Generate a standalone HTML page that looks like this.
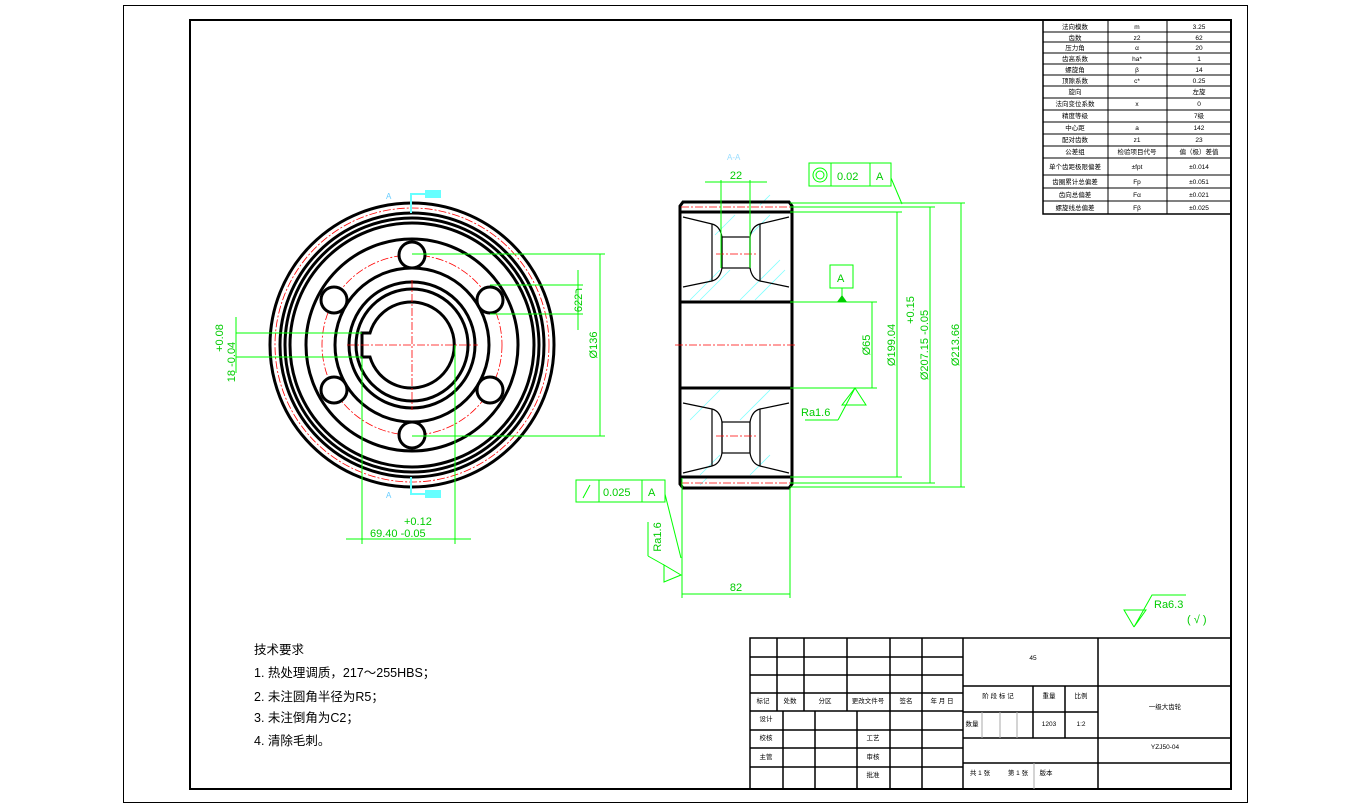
<!DOCTYPE html>
<html><head><meta charset="utf-8"><style>
html,body{margin:0;padding:0;background:#fff;}
svg{display:block;}
text{font-family:"Liberation Sans","Noto Sans CJK SC",sans-serif;}
.g{stroke:#00ff00;fill:none;stroke-width:1}
.gt{fill:#00cc00;font-size:11px;}
.k{stroke:#000;fill:none;stroke-width:3}
.kt{stroke:#000;fill:none;stroke-width:1.2}
.r{stroke:#ff0000;fill:none;stroke-width:0.8;stroke-dasharray:8 2 2 2}
.c{stroke:#7fffff;stroke-width:0.8}
.t{font-size:6.5px;fill:#000;text-anchor:middle}
</style></head><body>
<svg width="1369" height="809" viewBox="0 0 1369 809" xmlns="http://www.w3.org/2000/svg">
<rect x="123.5" y="5.5" width="1124" height="797" fill="none" stroke="#000" stroke-width="1"/>
<rect x="190" y="20" width="1041" height="769" fill="none" stroke="#000" stroke-width="2"/>

<!-- FRONT VIEW -->
<g>
<circle cx="412" cy="345" r="142" class="k"/>
<circle cx="412" cy="345" r="132" class="k"/>
<circle cx="412" cy="345" r="127" class="k"/>
<circle cx="412" cy="345" r="122" class="k"/>
<circle cx="412" cy="345" r="137" class="r"/>
<circle cx="412" cy="345" r="106" class="k"/>
<circle cx="412" cy="345" r="90" class="r"/>
<circle cx="412" cy="345" r="77" class="k"/>
<circle cx="412" cy="345" r="63" class="k"/>
<circle cx="412" cy="345" r="56" class="k"/>
<path d="M370,333 A43,43 0 1 1 370,357 L362,357 L362,333 Z" class="k"/>
<g fill="#fff" stroke="#000" stroke-width="3">
<circle cx="412" cy="255" r="13"/><circle cx="412" cy="435" r="13"/>
<circle cx="334" cy="300" r="13"/><circle cx="490" cy="300" r="13"/>
<circle cx="334" cy="390" r="13"/><circle cx="490" cy="390" r="13"/>
</g>
<line x1="347" y1="345" x2="478" y2="345" class="r"/>
<line x1="412" y1="280" x2="412" y2="410" class="r"/>
</g>
<g stroke="#66ffff" stroke-width="2" fill="#66ffff">
<polyline points="411,213 411,194 440,194" fill="none"/>
<rect x="426" y="191" width="14" height="6"/>
<polyline points="411,477 411,494 440,494" fill="none"/>
<rect x="426" y="491" width="14" height="6"/>
</g>
<text x="386" y="199" fill="#66ccff" font-size="8">A</text>
<text x="386" y="498" fill="#66ccff" font-size="8">A</text>

<g class="g">
<line x1="412" y1="254" x2="605" y2="254"/><line x1="412" y1="436" x2="605" y2="436"/>
<line x1="600" y1="254" x2="600" y2="436"/>
<line x1="490" y1="285" x2="583" y2="285"/><line x1="490" y1="314" x2="583" y2="314"/>
<line x1="578" y1="270" x2="578" y2="330"/>
<line x1="236" y1="333" x2="362" y2="333"/><line x1="236" y1="357" x2="362" y2="357"/>
<line x1="236" y1="317" x2="236" y2="373"/>
<line x1="362" y1="357" x2="362" y2="544"/><line x1="455" y1="345" x2="455" y2="544"/>
<line x1="346" y1="539" x2="471" y2="539"/>
</g>
<text class="gt" transform="translate(597,345) rotate(-90)" text-anchor="middle">Ø136</text>
<text class="gt" transform="translate(582,300) rotate(-90)" text-anchor="middle">6ר22</text>
<text class="gt" transform="translate(223,338) rotate(-90)" text-anchor="middle">+0.08</text>
<text class="gt" transform="translate(235,362) rotate(-90)" text-anchor="middle">18 -0.04</text>
<text class="gt" x="404" y="525">+0.12</text>
<text class="gt" x="370" y="537">69.40 -0.05</text>

<!-- SECTION VIEW -->
<g stroke="#7fffff" stroke-width="0.8">
<line x1="690" y1="300" x2="720" y2="270"/><line x1="700" y1="300" x2="730" y2="270"/>
<line x1="740" y1="300" x2="780" y2="260"/><line x1="755" y1="300" x2="785" y2="270"/>
<line x1="715" y1="235" x2="735" y2="215"/><line x1="750" y1="235" x2="770" y2="215"/>
<line x1="690" y1="420" x2="720" y2="390"/><line x1="740" y1="420" x2="770" y2="390"/>
<line x1="700" y1="475" x2="720" y2="455"/><line x1="750" y1="475" x2="770" y2="455"/>
<line x1="760" y1="205" x2="770" y2="195"/><line x1="700" y1="485" x2="708" y2="477"/>
</g>
<path d="M683,202 L789,202 L792,206 L792,484 L789,488 L683,488 L680,484 L680,206 Z" class="k"/>
<line x1="680" y1="212" x2="792" y2="212" class="k"/>
<line x1="680" y1="477" x2="792" y2="477" class="k"/>
<line x1="680" y1="302" x2="792" y2="302" class="k"/>
<line x1="680" y1="388" x2="792" y2="388" class="k"/>
<line x1="681" y1="207" x2="791" y2="207" class="r"/>
<line x1="681" y1="483" x2="791" y2="483" class="r"/>
<line x1="675" y1="345" x2="795" y2="345" class="r"/>
<g class="kt" stroke-width="2">
<path d="M683,217 L712,224 Q720,226 722,237 L722,268 Q720,279 712,281 L683,287"/>
<path d="M712,224 L712,281"/>
<path d="M789,217 L760,224 Q752,226 750,237 L750,268 Q752,279 760,281 L789,287"/>
<path d="M760,224 L760,281"/>
<rect x="722" y="237" width="28" height="31"/>
<path d="M683,473 L712,466 Q720,464 722,453 L722,422 Q720,411 712,409 L683,403"/>
<path d="M712,466 L712,409"/>
<path d="M789,473 L760,466 Q752,464 750,453 L750,422 Q752,411 760,409 L789,403"/>
<path d="M760,466 L760,409"/>
<rect x="722" y="422" width="28" height="31"/>
</g>
<line x1="716" y1="254" x2="756" y2="254" class="r"/>
<line x1="716" y1="436" x2="756" y2="436" class="r"/>
<text x="727" y="160" fill="#99ddff" font-size="8">A-A</text>

<g class="g">
<line x1="705" y1="182" x2="767" y2="182"/>
<line x1="721" y1="180" x2="721" y2="268"/><line x1="750" y1="180" x2="750" y2="268"/>
<rect x="809" y="163" width="82" height="23"/><line x1="831" y1="163" x2="831" y2="186"/><line x1="870" y1="163" x2="870" y2="186"/>
<circle cx="820" cy="175" r="7"/><circle cx="820" cy="175" r="4"/>
<line x1="891" y1="178" x2="902" y2="204"/>
<line x1="790" y1="203" x2="965" y2="203"/><line x1="790" y1="207" x2="935" y2="207"/><line x1="790" y1="212" x2="902" y2="212"/>
<line x1="790" y1="477" x2="902" y2="477"/><line x1="790" y1="483" x2="935" y2="483"/><line x1="790" y1="487" x2="965" y2="487"/>
<line x1="897" y1="212" x2="897" y2="477"/><line x1="930" y1="207" x2="930" y2="483"/><line x1="961" y1="203" x2="961" y2="487"/>
<line x1="790" y1="302" x2="877" y2="302"/><line x1="790" y1="388" x2="877" y2="388"/>
<line x1="872" y1="302" x2="872" y2="388"/>
<rect x="830" y="265" width="23" height="23"/><line x1="842" y1="288" x2="842" y2="302"/>
<path d="M855,388 L866,405 L842,405 Z"/><line x1="855" y1="388" x2="838" y2="420"/><line x1="838" y1="420" x2="805" y2="420"/>
<rect x="576" y="480" width="89" height="22"/><line x1="599" y1="480" x2="599" y2="502"/><line x1="642" y1="480" x2="642" y2="502"/>
<line x1="583" y1="498" x2="590" y2="485"/>
<line x1="665" y1="494" x2="681" y2="558"/>
<line x1="648" y1="522" x2="648" y2="556"/><line x1="648" y1="556" x2="664" y2="565"/>
<path d="M664,565 L664,582 L681,575 Z"/>
<line x1="682" y1="478" x2="682" y2="598"/><line x1="790" y1="488" x2="790" y2="598"/>
<line x1="682" y1="594" x2="790" y2="594"/>
<path d="M1134,627 L1124,610 L1146,610 L1134,627 L1152,595 L1186,595"/>
</g>
<path d="M837,302 L847,302 L842,295 Z" fill="#00cc00"/>
<text class="gt" x="736" y="179" text-anchor="middle">22</text>
<text class="gt" x="837" y="180" font-size="12">0.02</text>
<text class="gt" x="876" y="180" font-size="12">A</text>
<text class="gt" x="837" y="282" font-size="12">A</text>
<text class="gt" transform="translate(870,345) rotate(-90)" text-anchor="middle">Ø65</text>
<text class="gt" transform="translate(895,345) rotate(-90)" text-anchor="middle">Ø199.04</text>
<text class="gt" transform="translate(914,310) rotate(-90)" text-anchor="middle">+0.15</text>
<text class="gt" transform="translate(928,345) rotate(-90)" text-anchor="middle">Ø207.15 -0.05</text>
<text class="gt" transform="translate(959,345) rotate(-90)" text-anchor="middle">Ø213.66</text>
<text class="gt" x="801" y="416" font-size="12">Ra1.6</text>
<text class="gt" x="603" y="496" font-size="12">0.025</text>
<text class="gt" x="648" y="496" font-size="12">A</text>
<text class="gt" transform="translate(661,537) rotate(-90)" text-anchor="middle" font-size="12">Ra1.6</text>
<text class="gt" x="736" y="591" text-anchor="middle">82</text>
<text class="gt" x="1154" y="608" font-size="12">Ra6.3</text>
<text class="gt" x="1187" y="623" font-size="13">( √ )</text>

<g font-size="12.5" fill="#000">
<text x="254" y="654">技术要求</text>
<text x="254" y="677">1. 热处理调质，217～255HBS；</text>
<text x="254" y="701">2. 未注圆角半径为R5；</text>
<text x="254" y="722">3. 未注倒角为C2；</text>
<text x="254" y="745">4. 清除毛刺。</text>
</g>

<g stroke="#000" stroke-width="1" fill="none">
<rect x="1043" y="20" width="188" height="194" stroke-width="1.5"/>
<line x1="1108" y1="20" x2="1108" y2="214"/><line x1="1167" y1="20" x2="1167" y2="214"/>
<line x1="1043" y1="32" x2="1231" y2="32"/><line x1="1043" y1="42" x2="1231" y2="42"/>
<line x1="1043" y1="53" x2="1231" y2="53"/><line x1="1043" y1="64" x2="1231" y2="64"/>
<line x1="1043" y1="75" x2="1231" y2="75"/><line x1="1043" y1="86" x2="1231" y2="86"/>
<line x1="1043" y1="98" x2="1231" y2="98"/><line x1="1043" y1="110" x2="1231" y2="110"/>
<line x1="1043" y1="122" x2="1231" y2="122"/><line x1="1043" y1="134" x2="1231" y2="134"/>
<line x1="1043" y1="146" x2="1231" y2="146"/><line x1="1043" y1="158" x2="1231" y2="158"/>
<line x1="1043" y1="175" x2="1231" y2="175"/><line x1="1043" y1="188" x2="1231" y2="188"/>
<line x1="1043" y1="201" x2="1231" y2="201"/>
</g>
<g class="t">
<text x="1075" y="29">法向模数</text><text x="1137" y="29">m</text><text x="1199" y="29">3.25</text>
<text x="1075" y="40">齿数</text><text x="1137" y="40">z2</text><text x="1199" y="40">62</text>
<text x="1075" y="50">压力角</text><text x="1137" y="50">α</text><text x="1199" y="50">20</text>
<text x="1075" y="61">齿高系数</text><text x="1137" y="61">ha*</text><text x="1199" y="61">1</text>
<text x="1075" y="72">螺旋角</text><text x="1137" y="72">β</text><text x="1199" y="72">14</text>
<text x="1075" y="83">顶隙系数</text><text x="1137" y="83">c*</text><text x="1199" y="83">0.25</text>
<text x="1075" y="94">旋向</text><text x="1199" y="94">左旋</text>
<text x="1075" y="106">法向变位系数</text><text x="1137" y="106">x</text><text x="1199" y="106">0</text>
<text x="1075" y="118">精度等级</text><text x="1199" y="118">7级</text>
<text x="1075" y="130">中心距</text><text x="1137" y="130">a</text><text x="1199" y="130">142</text>
<text x="1075" y="142">配对齿数</text><text x="1137" y="142">z1</text><text x="1199" y="142">23</text>
<text x="1075" y="154">公差组</text><text x="1137" y="154">检验项目代号</text><text x="1199" y="154">偏（极）差值</text>
<text x="1075" y="169">单个齿距极限偏差</text><text x="1137" y="169">±fpt</text><text x="1199" y="169">±0.014</text>
<text x="1075" y="184">齿圈累计总偏差</text><text x="1137" y="184">Fp</text><text x="1199" y="184">±0.051</text>
<text x="1075" y="197">齿向总偏差</text><text x="1137" y="197">Fα</text><text x="1199" y="197">±0.021</text>
<text x="1075" y="210">螺旋线总偏差</text><text x="1137" y="210">Fβ</text><text x="1199" y="210">±0.025</text>
</g>

<g stroke="#000" stroke-width="1.5" fill="none">
<rect x="750" y="638" width="481" height="151"/>
<line x1="750" y1="657" x2="963" y2="657"/><line x1="750" y1="675" x2="963" y2="675"/>
<line x1="750" y1="693" x2="963" y2="693"/><line x1="750" y1="711" x2="963" y2="711"/>
<line x1="750" y1="730" x2="963" y2="730"/><line x1="750" y1="748" x2="963" y2="748"/>
<line x1="750" y1="767" x2="963" y2="767"/>
<line x1="777" y1="638" x2="777" y2="711"/><line x1="804" y1="638" x2="804" y2="711"/>
<line x1="847" y1="638" x2="847" y2="711"/><line x1="890" y1="638" x2="890" y2="789"/>
<line x1="922" y1="638" x2="922" y2="789"/>
<line x1="783" y1="711" x2="783" y2="789"/><line x1="815" y1="711" x2="815" y2="789"/>
<line x1="857" y1="711" x2="857" y2="789"/>
<line x1="963" y1="638" x2="963" y2="789"/><line x1="1098" y1="638" x2="1098" y2="789"/>
<line x1="963" y1="686" x2="1231" y2="686"/><line x1="963" y1="712" x2="1098" y2="712"/>
<line x1="963" y1="738" x2="1231" y2="738"/><line x1="963" y1="763" x2="1231" y2="763"/>
<line x1="1033" y1="686" x2="1033" y2="738"/><line x1="1065" y1="686" x2="1065" y2="738"/>
</g>
<g stroke="#aaa" stroke-width="1"><line x1="982" y1="712" x2="982" y2="738"/><line x1="1000" y1="712" x2="1000" y2="738"/><line x1="1017" y1="712" x2="1017" y2="738"/><line x1="1034" y1="763" x2="1034" y2="789"/></g>
<g class="t">
<text x="763" y="703">标记</text><text x="790" y="703">处数</text><text x="825" y="703">分区</text>
<text x="868" y="703">更改文件号</text><text x="906" y="703">签名</text><text x="942" y="703">年 月 日</text>
<text x="766" y="721">设计</text><text x="766" y="740">校核</text><text x="766" y="759">主管</text>
<text x="873" y="740">工艺</text><text x="873" y="759">审核</text><text x="873" y="777">批准</text>
<text x="998" y="698">阶 段 标 记</text><text x="1049" y="698">重量</text><text x="1081" y="698">比例</text>
<text x="972" y="726">数量</text><text x="1049" y="726">1203</text><text x="1081" y="726">1:2</text>
<text x="1033" y="660">45</text>
<text x="1165" y="709">一级大齿轮</text><text x="1165" y="749">YZJ50-04</text>
<text x="980" y="775">共 1 张</text><text x="1018" y="775">第 1 张</text><text x="1046" y="775">版本</text>
</g>
</svg>
</body></html>
